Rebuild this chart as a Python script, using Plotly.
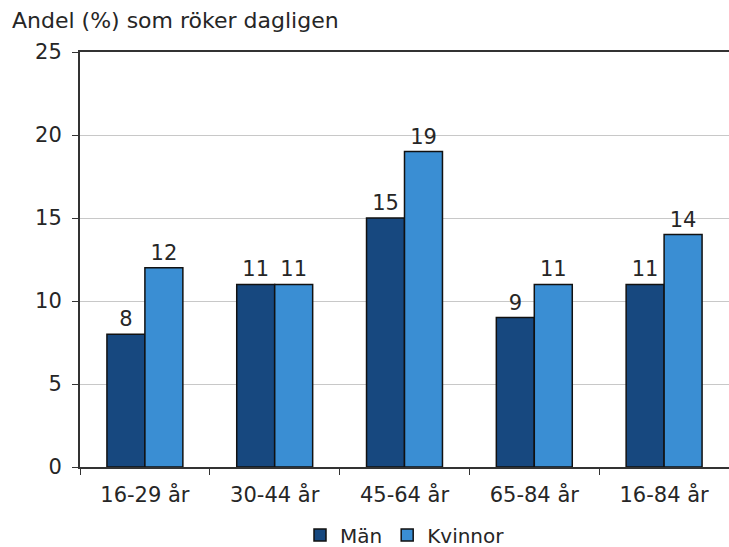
import plotly.graph_objects as go

# Daily smokers by age group and sex
age_groups = ["16-29 år", "30-44 år", "45-64 år", "65-84 år", "16-84 år"]
men = [8, 11, 15, 9, 11]
women = [12, 11, 19, 11, 14]
y_ticks = [0, 5, 10, 15, 20, 25]

FONT = "DejaVu Sans, Verdana, sans-serif"
TEXT = "#262626"
SIZE = 21
W, H = 729, 547

fig = go.Figure()
fig.add_trace(go.Bar(
    x=age_groups, y=men, name="Män",
    marker=dict(color="#17487F", line=dict(color="#111111", width=1.5)),
    text=men, textposition="outside", cliponaxis=False,
    textfont=dict(size=SIZE, color=TEXT),
))
fig.add_trace(go.Bar(
    x=age_groups, y=women, name="Kvinnor",
    marker=dict(color="#3A8ED3", line=dict(color="#111111", width=1.5)),
    text=women, textposition="outside", cliponaxis=False,
    textfont=dict(size=SIZE, color=TEXT),
))

fig.update_layout(
    width=W, height=H,
    barmode="group", bargap=0.415, bargroupgap=0,
    plot_bgcolor="white", paper_bgcolor="white",
    margin=dict(l=80, r=0, t=52, b=80),
    font=dict(family=FONT, size=SIZE, color=TEXT),
    title=dict(
        text="Andel (%) som röker dagligen",
        x=12 / W, xref="container", xanchor="left",
        y=1 - 20 / H, yref="container", yanchor="middle",
        font=dict(size=22, color=TEXT),
    ),
    legend=dict(
        orientation="h", xref="container", yref="container",
        x=405 / W, xanchor="center", y=12 / H, yanchor="middle",
        font=dict(size=20, color=TEXT), itemwidth=30, traceorder="normal",
    ),
    showlegend=True,
)
fig.update_xaxes(
    showline=True, mirror=True, linecolor="#333333", linewidth=2,
    ticks="outside", tickson="boundaries", ticklen=6, tickcolor="#333333",
    showgrid=False, ticklabelstandoff=8,
)
fig.update_yaxes(
    range=[0, 25], tickvals=y_ticks,
    showline=True, linecolor="#333333", linewidth=2,
    ticks="outside", ticklen=6, tickcolor="#333333",
    showgrid=True, gridcolor="#c8c8c8", gridwidth=1, zeroline=False,
    ticklabelstandoff=6,
)

# drop the default page margin so the figure sits at the window's top-left
fig.write_html(
    "out.html",
    config={"displayModeBar": False},
    post_script="document.body.style.margin='0';document.body.style.overflow='hidden';",
)
